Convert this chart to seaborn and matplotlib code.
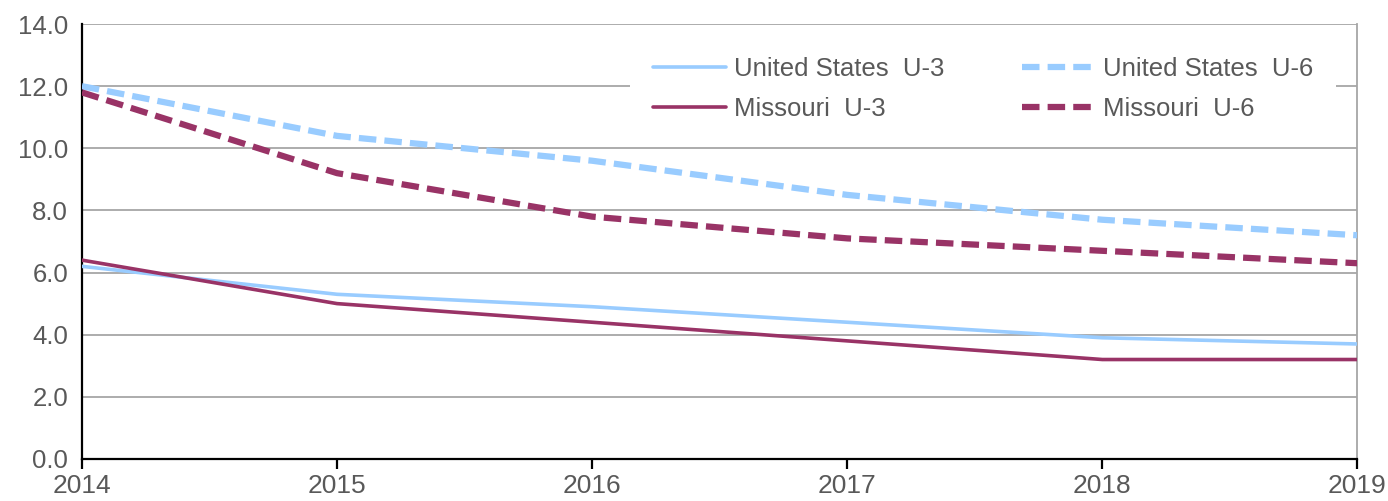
import pandas as pd
import matplotlib
matplotlib.use("Agg")
import matplotlib.pyplot as plt
import seaborn as sns

years = [2014, 2015, 2016, 2017, 2018, 2019]
us_u3 = [6.2, 5.3, 4.9, 4.4, 3.9, 3.7]
us_u6 = [12.0, 10.4, 9.6, 8.5, 7.7, 7.2]
mo_u3 = [6.4, 5.0, 4.4, 3.8, 3.2, 3.2]
mo_u6 = [11.8, 9.2, 7.8, 7.1, 6.7, 6.3]
series_names = ["United States  U-3", "United States  U-6", "Missouri  U-3", "Missouri  U-6"]

df = pd.DataFrame({
    "year": years * 4,
    "rate": us_u3 + us_u6 + mo_u3 + mo_u6,
    "series": [n for n in series_names for _ in years],
})

sns.set_style("white")
plt.rcParams["font.family"] = ["Liberation Sans", "DejaVu Sans"]

light_blue = "#99CCFF"
maroon = "#993366"
palette = {series_names[0]: light_blue, series_names[1]: light_blue,
           series_names[2]: maroon, series_names[3]: maroon}

fig = plt.figure(figsize=(13.88, 5.01), dpi=100)
ax = fig.add_axes([0.059, 0.084, 0.919, 0.868])

for name in series_names:
    sub = df[df["series"] == name]
    dashed = "U-6" in name
    sns.lineplot(data=sub, x="year", y="rate", ax=ax, color=palette[name],
                 linewidth=4.5 if dashed else 2.6,
                 linestyle=(0, (2.8, 1.3)) if dashed else "-",
                 label=name, zorder=3)

ax.set_xlim(2014, 2019)
ax.set_ylim(0, 14)
ax.set_yticks(range(0, 15, 2))
ax.set_yticklabels([f"{v:.1f}" for v in range(0, 15, 2)])
ax.set_xticks(years)
ax.set_xlabel("")
ax.set_ylabel("")
ax.grid(axis="y", color="#A6A6A6", linewidth=1.3, zorder=0)
ax.set_axisbelow(True)

ax.spines["top"].set_visible(False)
ax.spines["right"].set_color("#A6A6A6")
ax.spines["right"].set_linewidth(1.3)
ax.spines["left"].set_color("black")
ax.spines["left"].set_linewidth(1.6)
ax.spines["bottom"].set_color("black")
ax.spines["bottom"].set_linewidth(1.6)

ax.tick_params(axis="x", direction="out", length=7, width=1.6, color="black",
               labelsize=19, labelcolor="#595959", pad=4, bottom=True)
ax.tick_params(axis="y", length=0, labelsize=18.5, labelcolor="#595959", pad=10)

handles, labels = ax.get_legend_handles_labels()
order = [0, 2, 1, 3]
leg = ax.legend([handles[i] for i in order], [labels[i] for i in order],
                ncol=2, loc="upper right", bbox_to_anchor=(0.9835, 0.9766),
                frameon=True, facecolor="white", edgecolor="none", framealpha=1,
                prop={"size": 18.5},
                labelcolor="#595959", handlelength=2.85,
                handletextpad=0.31, columnspacing=3.0, labelspacing=0.62,
                borderpad=0.9, borderaxespad=0.0, fancybox=False)
leg.set_zorder(5)

fig.savefig("out.png", dpi=100)
